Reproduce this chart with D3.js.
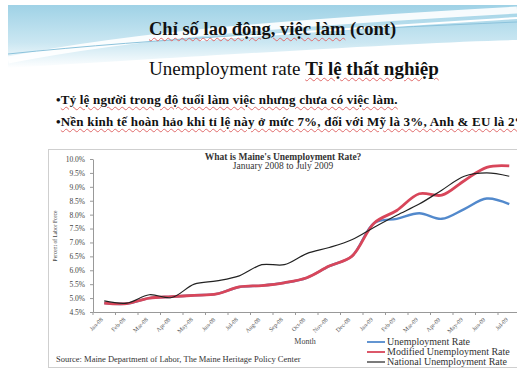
<!DOCTYPE html>
<html>
<head>
<meta charset="utf-8">
<script src="https://cdn.jsdelivr.net/npm/d3@7"></script>
<style>
  body { margin: 0; background: #fff; }
  #slide { position: relative; width: 517px; height: 379px; overflow: hidden; }
  #slide svg { position: absolute; left: 0; top: 0; }
  .slide-text { position: absolute; white-space: nowrap; color: #111;
    font-family: "Liberation Serif", "Times New Roman", serif; }
  .sp { text-decoration: underline wavy #e06a6a; text-decoration-thickness: 1px;
    text-underline-offset: 2px; }
</style>
</head>
<body>
<div id="slide"></div>
<script>
// months on the x axis
const months = ["Jan-08", "Feb-08", "Mar-08", "Apr-08", "May-08", "Jun-08", "Jul-08",
  "Aug-08", "Sep-08", "Oct-08", "Nov-08", "Dec-08", "Jan-09", "Feb-09", "Mar-09",
  "Apr-09", "May-09", "Jun-09", "Jul-09"];

// series (percent of labor force)
const modifiedRate = [4.82, 4.8, 5.0, 5.05, 5.1, 5.15, 5.4, 5.45, 5.55, 5.73, 6.15, 6.5,
  7.7, 8.15, 8.75, 8.7, 9.22, 9.7, 9.75];
const unemploymentRate = [4.82, 4.8, 5.0, 5.05, 5.1, 5.15, 5.4, 5.45, 5.55, 5.73, 6.15, 6.5,
  7.7, 7.85, 8.05, 7.85, 8.2, 8.58, 8.38];
const nationalRate = [4.9, 4.82, 5.12, 5.02, 5.5, 5.62, 5.8, 6.2, 6.2, 6.6, 6.82, 7.1,
  7.55, 7.98, 8.38, 8.88, 9.38, 9.5, 9.38];

const yTicks = [4.5, 5.0, 5.5, 6.0, 6.5, 7.0, 7.5, 8.0, 8.5, 9.0, 9.5, 10.0];

const seriesNames = ["Unemployment Rate", "Modified Unemployment Rate", "National Unemployment Rate"];
const seriesColors = ["#5289cc", "#d8465a", "#222222"];

const W = 517, H = 379;
const serif = '"Liberation Serif", "Times New Roman", serif';

const slide = d3.select("#slide");
const svg = slide.append("svg").attr("width", W).attr("height", H);

// ---- slide background (blue swoosh at the top)
const defs = svg.append("defs");
const sky = defs.append("linearGradient").attr("id", "sky")
  .attr("x1", 0).attr("y1", 0).attr("x2", 0).attr("y2", 1);
sky.append("stop").attr("offset", 0).attr("stop-color", "#9fd2e6");
sky.append("stop").attr("offset", 0.6).attr("stop-color", "#cbe7f2");
sky.append("stop").attr("offset", 1).attr("stop-color", "#ffffff");

svg.append("path")
  .attr("d", "M8,5 H517 V40 C430,42 300,50 8,68 Z")
  .attr("fill", "url(#sky)");
svg.append("path")
  .attr("d", "M8,60 C140,34 300,22 517,10")
  .attr("fill", "none").attr("stroke", "#fff").attr("stroke-width", 7).attr("opacity", 0.9);
svg.append("path")
  .attr("d", "M8,54 C160,38 330,30 517,22")
  .attr("fill", "none").attr("stroke", "#8cc3dc").attr("stroke-width", 1);
svg.append("path")
  .attr("d", "M200,40 C320,30 420,24 517,18")
  .attr("fill", "none").attr("stroke", "#fff").attr("stroke-width", 2);

// ---- slide texts
function addText(x, y, size, html, weight, spacing) {
  slide.append("div").attr("class", "slide-text")
    .style("left", x + "px").style("top", y + "px")
    .style("font-size", size + "px").style("font-weight", weight || "normal")
    .style("letter-spacing", (spacing || 0) + "px")
    .html(html);
}
addText(149, 19, 18.5, '<span class="sp">Chỉ số lao động, việc làm</span> (cont)', "bold");
addText(149, 58, 19, 'Unemployment rate <b class="sp">Tỉ lệ thất nghiệp</b>');
addText(56, 92, 13, '•<span class="sp">Tỷ lệ người trong độ tuổi làm việc nhưng chưa có việc làm.</span>', "bold", 0.2);
addText(56, 114, 13, '•<span class="sp">Nền kinh tế hoàn hảo khi tỉ lệ này ở mức 7%, đối với Mỹ là 3%, Anh &amp; EU là 2%</span>', "bold", 0.2);

// ---- chart box
svg.append("rect")
  .attr("x", 48.5).attr("y", 149.5).attr("width", 480).attr("height", 218)
  .attr("fill", "#fff").attr("stroke", "#cfcfcf");

const x = d3.scaleBand().domain(months).range([93, 93 + 22.5 * months.length]).padding(0);
const cx = (m) => x(m) + x.bandwidth() / 2;
const y = d3.scaleLinear().domain([4.5, 10]).range([312, 159]);

// chart title
svg.append("text").attr("x", 283).attr("y", 160).attr("text-anchor", "middle")
  .attr("font-family", serif).attr("font-size", 9.5).attr("font-weight", "bold").attr("fill", "#333")
  .text("What is Maine's Unemployment Rate?");
svg.append("text").attr("x", 283).attr("y", 168.5).attr("text-anchor", "middle")
  .attr("font-family", serif).attr("font-size", 9.5).attr("fill", "#333")
  .text("January 2008 to July 2009");

// y axis
svg.append("g")
  .attr("transform", "translate(93,0)")
  .call(d3.axisLeft(y).tickValues(yTicks).tickFormat((d) => d.toFixed(1) + "%")
    .tickSize(3).tickSizeOuter(0))
  .call((g) => g.select(".domain").attr("stroke", "#999"))
  .call((g) => g.selectAll(".tick line").attr("stroke", "#999"))
  .call((g) => g.selectAll(".tick text").attr("x", -8)
    .attr("font-family", serif).attr("font-size", 7.5).attr("fill", "#444"));

svg.append("text")
  .attr("transform", "translate(57,236) rotate(-90)")
  .attr("text-anchor", "middle")
  .attr("font-family", serif).attr("font-size", 5.5).attr("fill", "#444")
  .text("Percent of Labor Force");

// x axis
const xAxis = svg.append("g")
  .attr("transform", "translate(0,312)")
  .call(d3.axisBottom(x).tickSize(0).tickSizeOuter(0))
  .call((g) => g.select(".domain").attr("stroke", "#999"))
  .call((g) => g.selectAll(".tick text")
    .attr("font-family", serif).attr("font-size", 6).attr("fill", "#555")
    .attr("text-anchor", "end").attr("dy", 0).attr("y", 0)
    .attr("transform", "translate(-1,8) rotate(-45)"));

xAxis.selectAll(".bound")
  .data(months.map((m) => x(m)).concat([x.range()[1]]))
  .join("line")
  .attr("class", "bound")
  .attr("x1", (d) => d).attr("x2", (d) => d)
  .attr("y1", 0).attr("y2", 3)
  .attr("stroke", "#999");

svg.append("text").attr("x", 305).attr("y", 344).attr("text-anchor", "middle")
  .attr("font-family", serif).attr("font-size", 8).attr("fill", "#444")
  .text("Month");

// lines
const line = d3.line()
  .x((d, i) => cx(months[i]))
  .y((d) => y(d))
  .curve(d3.curveCatmullRom.alpha(0.5));

const series = [unemploymentRate, modifiedRate, nationalRate];
const widths = [2.4, 2.8, 1.2];
svg.append("g").selectAll("path")
  .data(series)
  .join("path")
  .attr("d", (d) => line(d))
  .attr("fill", "none")
  .attr("stroke", (d, i) => seriesColors[i])
  .attr("stroke-width", (d, i) => widths[i])
  .attr("stroke-linejoin", "round");

// legend
const legend = svg.append("g").selectAll("g")
  .data(seriesNames)
  .join("g")
  .attr("transform", (d, i) => `translate(367,${342 + i * 10})`);
legend.append("line")
  .attr("x1", 0).attr("x2", 18)
  .attr("stroke", (d, i) => seriesColors[i])
  .attr("stroke-width", (d, i) => (i === 2 ? 1.2 : 1.8));
legend.append("text")
  .attr("x", 20).attr("y", 3)
  .attr("font-family", serif).attr("font-size", 10).attr("fill", "#333")
  .text((d) => d);

// source
svg.append("text").attr("x", 56).attr("y", 362)
  .attr("font-family", serif).attr("font-size", 8.5).attr("fill", "#333")
  .text("Source: Maine Department of Labor, The Maine Heritage Policy Center");
</script>
</body>
</html>
